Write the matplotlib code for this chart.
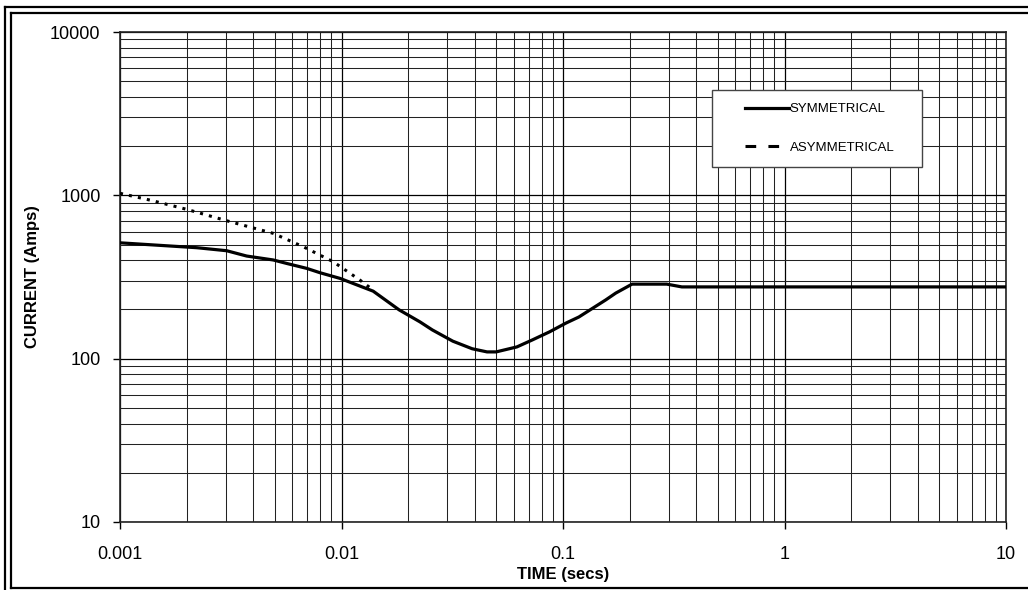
import matplotlib
matplotlib.use("Agg")
import matplotlib.pyplot as plt
from matplotlib.lines import Line2D
from matplotlib.legend_handler import HandlerLine2D

plt.rcParams['font.family'] = ['Liberation Sans', 'DejaVu Sans']

# ---- data ----
sym_time = [0.001, 0.00222, 0.00303, 0.00373, 0.00492, 0.00565, 0.00697, 0.00799,
            0.00985, 0.0139, 0.0182, 0.0226, 0.0257, 0.0318, 0.0389, 0.0454, 0.0499,
            0.0619, 0.0725, 0.087, 0.103, 0.118, 0.156, 0.173, 0.205, 0.294, 0.344, 10.0]
sym_current = [512, 478, 458, 425, 402, 383, 357, 336,
               310, 259, 199, 168, 150, 128, 115, 110, 110,
               118, 130, 146, 165, 180, 229, 252, 286, 286, 275, 275]

asym_time = [0.001, 0.001366, 0.002, 0.00303, 0.00492, 0.00673, 0.00918, 0.0121, 0.0139]
asym_current = [1029, 935, 821, 699, 585, 484, 392, 303, 263]

x_ticks = [0.001, 0.01, 0.1, 1, 10]
x_tick_labels = ['0.001', '0.01', '0.1', '1', '10']
y_ticks = [10, 100, 1000, 10000]
y_tick_labels = ['10', '100', '1000', '10000']

W, H = 1028, 590
fig = plt.figure(figsize=(W / 100, H / 100), dpi=100)
ax = fig.add_axes([120 / W, 1 - 522 / H, (1006 - 120) / W, (522 - 32) / H])

ax.set_xscale('log')
ax.set_yscale('log')
ax.set_xlim(0.001, 10)
ax.set_ylim(10, 10000)

ax.set_axisbelow(True)
ax.grid(True, which='major', color='black', linewidth=0.9)
ax.grid(True, which='minor', color='#222222', linewidth=0.75)

ax.plot(sym_time, sym_current, color='black', linewidth=2.3, solid_joinstyle='round',
        zorder=3)
ax.plot(asym_time, asym_current, color='black', linewidth=2.2, dashes=(1.0, 2.0),
        zorder=3)

ax.set_xticks(x_ticks)
ax.set_xticklabels(x_tick_labels)
ax.set_yticks(y_ticks)
ax.set_yticklabels(y_tick_labels)
ax.tick_params(which='major', direction='out', length=5, width=1, color='black',
               labelsize=13)
ax.tick_params(axis='x', pad=12)
ax.tick_params(axis='y', pad=9)
ax.tick_params(which='minor', length=0)
for s in ax.spines.values():
    s.set_color('#222222')
    s.set_linewidth(1.2)

ax.set_xlabel('TIME (secs)', fontsize=12, fontweight='bold')
ax.set_ylabel('CURRENT (Amps)', fontsize=12, fontweight='bold')
ax.xaxis.set_label_coords(0.5, (522 - 567) / 490)
ax.yaxis.set_label_coords((40 - 120) / 886, 0.5)

# legend
h_sym = Line2D([], [], color='black', linewidth=2.3)
h_asym = Line2D([], [], color='black', linewidth=2.2, dashes=(3.5, 4.0))
leg = ax.legend([h_sym, h_asym], ['SYMMETRICAL', 'ASYMMETRICAL'],
                loc='upper left', mode='expand',
                bbox_to_anchor=(712 / W, 1 - 166 / H, 210 / W, 76 / H),
                bbox_transform=fig.transFigure,
                fontsize=9.5, frameon=True, fancybox=False, shadow=False,
                borderpad=1.0, labelspacing=2.0, handlelength=4.8,
                handletextpad=0.1, borderaxespad=0,
                handler_map={Line2D: HandlerLine2D(xpad=1.5)})
leg.get_frame().set_edgecolor('#444444')
leg.get_frame().set_linewidth(1.0)
leg.get_frame().set_facecolor('white')
leg.get_frame().set_alpha(1.0)
leg.set_zorder(6)

# double frame around the chart
def fline(xs, ys, lw):
    fig.add_artist(Line2D([x / W for x in xs], [1 - y / H for y in ys],
                          color='black', linewidth=lw, transform=fig.transFigure))

fline([5, 5], [7, 600], 1.6)
fline([5, 1040], [7, 7], 1.6)
fline([11, 11], [13, 588], 1.6)
fline([11, 1040], [13, 13], 1.6)
fline([11, 1040], [588, 588], 1.6)

fig.savefig('out.png', dpi=100)
